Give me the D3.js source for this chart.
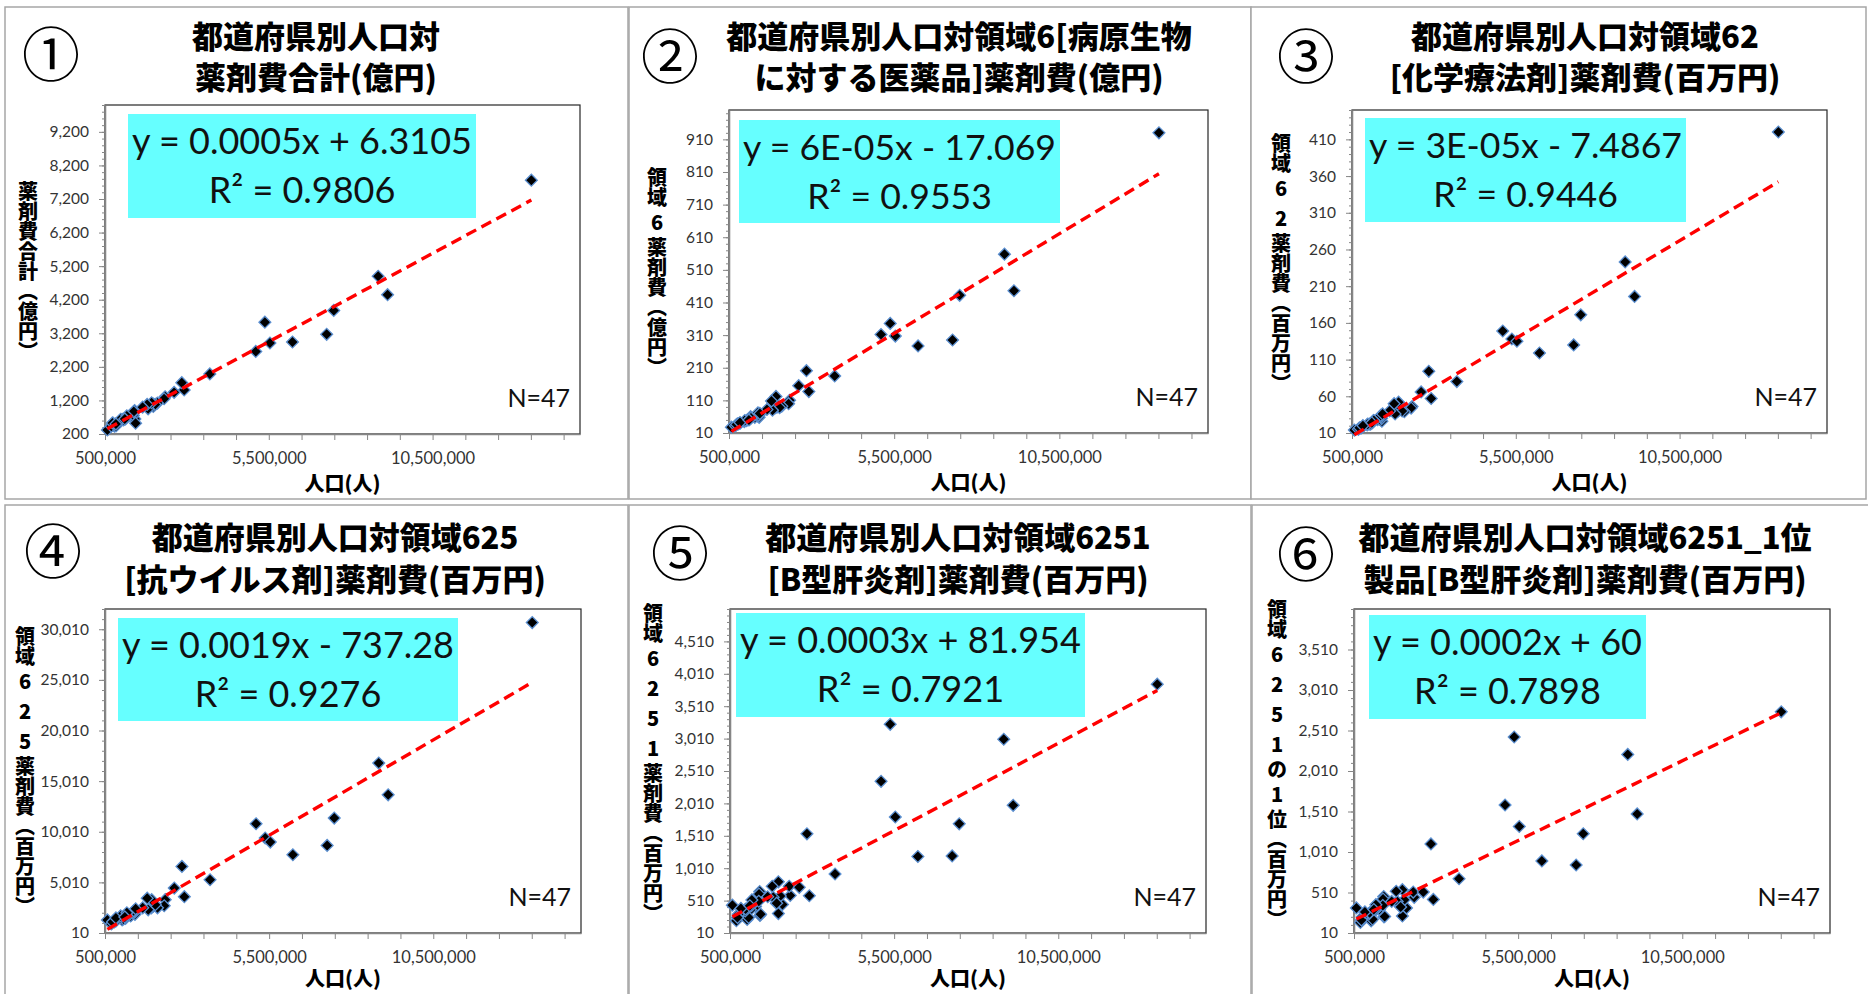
<!DOCTYPE html>
<html>
<head>
<meta charset="utf-8">
<script src="https://cdn.jsdelivr.net/npm/d3@7"></script>
<style>
  html, body { margin: 0; padding: 0; background: #ffffff; }
  svg { display: block; }
</style>
</head>
<body>
<svg id="chart" width="1868" height="994"></svg>
<script>
// ---- data: 47 prefectures, Hokkaido ... Okinawa ----
const prefectures = ["北海道","青森","岩手","宮城","秋田","山形","福島","茨城","栃木","群馬",
  "埼玉","千葉","東京","神奈川","新潟","富山","石川","福井","山梨","長野","岐阜","静岡","愛知",
  "三重","滋賀","京都","大阪","兵庫","奈良","和歌山","鳥取","島根","岡山","広島","山口","徳島",
  "香川","愛媛","高知","福岡","佐賀","長崎","熊本","大分","宮崎","鹿児島","沖縄"];

// 人口（人）
const population = [5380000,1308000,1280000,2334000,1023000,1124000,1914000,2917000,1974000,1973000,
  7267000,6223000,13515000,9126000,2304000,1066000,1154000,787000,835000,2099000,2032000,3700000,7483000,
  1816000,1413000,2610000,8839000,5535000,1364000,964000,573000,694000,1922000,2844000,1405000,756000,
  976000,1385000,728000,5102000,833000,1377000,1786000,1166000,1104000,1648000,1434000];

// ① 薬剤費合計（億円）
const drugTotal = [3530,780,740,1310,640,650,1080,1510,1020,1090,
  3170,2940,7760,4350,1250,620,700,430,440,1120,1080,1990,3880,
  950,650,1440,4900,2910,760,610,320,430,1130,1730,900,520,
  640,850,530,2660,500,870,1080,740,650,1000,520];

// ② 領域6 病原生物に対する医薬品（億円）
const area6 = [346,62,58,110,48,52,88,137,90,95,
  295,277,930,446,100,50,60,38,40,92,88,185,432,
  80,58,155,558,307,62,45,28,32,122,201,64,38,
  48,66,36,312,42,72,108,56,50,82,70];

// ③ 領域62 化学療法剤（百万円）
const area62 = [138,30,28,46,22,24,40,57,42,44,
  130,119,420,196,44,22,27,17,19,39,40,80,171,
  36,26,66,243,135,28,21,14,15,52,94,30,17,
  22,32,17,149,20,34,50,27,24,40,36];

// ④ 領域625 抗ウイルス剤（百万円）
const area625 = [9390,1800,1700,3300,1300,1450,2500,3600,2650,2900,
  8660,7740,30670,13660,2700,1400,1800,1100,1200,2500,2800,5270,11360,
  2300,1850,4450,16790,8990,2000,1500,1300,900,3300,6590,2100,1200,
  1700,2200,1100,10800,1500,2200,3450,2000,1600,2500,2400];

// ⑤ 領域6251 B型肝炎剤（百万円）
const area6251 = [3230,500,420,590,220,370,470,585,310,800,
  1200,1190,3850,1980,730,250,430,290,330,450,580,920,1695,
  560,280,715,3000,1800,560,350,440,200,470,1540,650,300,
  380,610,250,2350,390,500,730,520,430,570,300];

// ⑥ 領域6251 1位製品（百万円）
const area6251Top = [2430,340,300,450,160,280,340,425,220,545,
  850,900,2740,1480,515,180,300,200,240,320,420,680,1235,
  400,210,515,2215,1325,400,250,320,140,330,1110,460,210,
  260,430,170,1590,270,350,525,360,300,400,215];

const panelNumbers = ["①","②","③","④","⑤","⑥"];
const panelTitles = [
  ["都道府県別人口対", "薬剤費合計(億円)"],
  ["都道府県別人口対領域6[病原生物", "に対する医薬品]薬剤費(億円)"],
  ["都道府県別人口対領域62", "[化学療法剤]薬剤費(百万円)"],
  ["都道府県別人口対領域625", "[抗ウイルス剤]薬剤費(百万円)"],
  ["都道府県別人口対領域6251", "[B型肝炎剤]薬剤費(百万円)"],
  ["都道府県別人口対領域6251_1位", "製品[B型肝炎剤]薬剤費(百万円)"]
];
const yAxisTitles = ["薬剤費合計（億円）", "領域6薬剤費（億円）", "領域62薬剤費（百万円）",
  "領域625薬剤費（百万円）", "領域6251薬剤費（百万円）", "領域6251の1位（百万円）"];
const xAxisTitle = "人口(人)";
const equations = ["y = 0.0005x + 6.3105", "y = 6E-05x - 17.069", "y = 3E-05x - 7.4867",
  "y = 0.0019x - 737.28", "y = 0.0003x + 81.954", "y = 0.0002x + 60"];
const rSquared = ["R² = 0.9806", "R² = 0.9553", "R² = 0.9446", "R² = 0.9276", "R² = 0.7921", "R² = 0.7898"];
const sampleLabel = "N=47";

const xDomain = [500000, 15000000];
const xTickLabels = [500000, 5500000, 10500000];
const xMinorStep = 1000000;
const yDomains = [[200, 10000], [10, 1000], [10, 450], [10, 32010], [10, 5010], [10, 4010]];
const yTickLabels = [
  [200,1200,2200,3200,4200,5200,6200,7200,8200,9200],
  [10,110,210,310,410,510,610,710,810,910],
  [10,60,110,160,210,260,310,360,410],
  [10,5010,10010,15010,20010,25010,30010],
  [10,510,1010,1510,2010,2510,3010,3510,4010,4510],
  [10,510,1010,1510,2010,2510,3010,3510]
];
const yMinorSteps = [200, 20, 10, 1000, 100, 100];
const seriesList = [drugTotal, area6, area62, area625, area6251, area6251Top];

// ---- layout of the six panels (pixels) ----
const layout = [
  { box:[5,7,628,499],      plot:[105,105,580,434],   titleX:316,  titleY:[48,89],   num:[51,51],   yTitle:[28,271],  eq:[128,114,476,218] },
  { box:[629,7,1251,499],   plot:[729,110,1208,433],  titleX:959,  titleY:[48,89],   num:[670,53],  yTitle:[657,272], eq:[739,120,1060,223] },
  { box:[1251,7,1866,499],  plot:[1352,110,1827,433], titleX:1585, titleY:[48,89],   num:[1306,53], yTitle:[1281,263], eq:[1365,118,1686,222] },
  { box:[5,505,628,998],    plot:[105,609,581,933],   titleX:335,  titleY:[549,591], num:[53,548],  yTitle:[25,771],  eq:[118,618,458,721] },
  { box:[629,505,1251,998], plot:[730,609,1206,933],  titleX:958,  titleY:[549,591], num:[680,550], yTitle:[653,763], eq:[736,613,1085,717] },
  { box:[1252,505,1870,998],plot:[1354,609,1830,933], titleX:1585, titleY:[549,591], num:[1306,551], yTitle:[1277,764], eq:[1369,615,1646,719] }
];

const JP = "'Noto Sans CJK JP', 'Noto Sans CJK SC', sans-serif";
const LAT = "Lato, 'Liberation Sans', sans-serif";
const fmt = d3.format(",");
const svg = d3.select("#chart");
const isLatin = c => /[0-9A-Za-z]/.test(c);

function leastSquares(xs, ys) {
  const mx = d3.mean(xs), my = d3.mean(ys);
  let sxy = 0, sxx = 0;
  xs.forEach((x, i) => { sxy += (x - mx) * (ys[i] - my); sxx += (x - mx) * (x - mx); });
  const slope = sxy / sxx;
  return { slope, intercept: my - slope * mx };
}

layout.forEach((L, p) => {
  const g = svg.append("g");
  const values = seriesList[p];

  // panel frame
  g.append("rect")
    .attr("x", L.box[0]).attr("y", L.box[1])
    .attr("width", L.box[2] - L.box[0]).attr("height", L.box[3] - L.box[1])
    .attr("fill", "#ffffff").attr("stroke", "#a6a6a6").attr("stroke-width", 1.5);

  // circled panel number
  g.append("text")
    .attr("x", L.num[0]).attr("y", L.num[1])
    .attr("text-anchor", "middle").attr("dominant-baseline", "central")
    .attr("font-family", JP).attr("font-size", 58).attr("fill", "#000")
    .text(panelNumbers[p]);

  // two-line title
  panelTitles[p].forEach((line, i) => {
    g.append("text")
      .attr("x", L.titleX).attr("y", L.titleY[i])
      .attr("text-anchor", "middle")
      .attr("font-family", JP).attr("font-weight", 900).attr("font-size", 31)
      .attr("fill", "#000")
      .text(line);
  });

  const [px0, py0, px1, py1] = L.plot;
  const x = d3.scaleLinear().domain(xDomain).range([px0, px1]);
  const y = d3.scaleLinear().domain(yDomains[p]).range([py1, py0]);

  // plot area
  g.append("rect")
    .attr("x", px0).attr("y", py0).attr("width", px1 - px0).attr("height", py1 - py0)
    .attr("fill", "#ffffff").attr("stroke", "#262626").attr("stroke-width", 1.2);

  // y axis: minor ticks, then labelled ticks
  const yMinor = d3.range(yDomains[p][0], yDomains[p][1] + 1e-9, yMinorSteps[p]);
  const gyMinor = g.append("g").attr("transform", `translate(${px0},0)`)
    .call(d3.axisLeft(y).tickValues(yMinor).tickSize(3).tickSizeOuter(0).tickFormat(""));
  const gy = g.append("g").attr("transform", `translate(${px0},0)`)
    .call(d3.axisLeft(y).tickValues(yTickLabels[p]).tickSize(6).tickSizeOuter(0).tickPadding(10).tickFormat(fmt));
  [gyMinor, gy].forEach(a => {
    a.select(".domain").attr("stroke", "#868686").attr("stroke-width", 1.3);
    a.selectAll(".tick line").attr("stroke", "#868686").attr("stroke-width", 1);
  });
  gy.selectAll(".tick text").attr("font-family", LAT).attr("font-size", 15.5).attr("fill", "#333");

  // x axis
  const xTicks = d3.range(xDomain[0], xDomain[1], xMinorStep);
  const gx = g.append("g").attr("transform", `translate(0,${py1})`)
    .call(d3.axisBottom(x).tickValues(xTicks).tickSize(6).tickSizeOuter(0).tickPadding(12)
      .tickFormat(d => xTickLabels.includes(d) ? fmt(d) : ""));
  gx.select(".domain").attr("stroke", "#868686").attr("stroke-width", 1.3);
  gx.selectAll(".tick line").attr("stroke", "#868686").attr("stroke-width", 1);
  gx.selectAll(".tick text").attr("font-family", LAT).attr("font-size", 16.5).attr("fill", "#333");

  // x axis title
  g.append("text")
    .attr("x", (px0 + px1) / 2).attr("y", Math.min(py1 + 57, 986))
    .attr("text-anchor", "middle")
    .attr("font-family", JP).attr("font-weight", 900).attr("font-size", 20).attr("fill", "#000")
    .text(xAxisTitle);

  // y axis title, written top to bottom; Latin digits get extra room around them
  const chars = Array.from(yAxisTitles[p]);
  const yt = g.append("text")
    .attr("x", L.yTitle[0]).attr("y", L.yTitle[1])
    .attr("text-anchor", "middle")
    .style("writing-mode", "vertical-rl")
    .style("text-orientation", "upright")
    .attr("font-family", JP).attr("font-weight", 900).attr("font-size", 20).attr("fill", "#000");
  chars.forEach((c, i) => {
    let gap = 0;
    if (isLatin(c)) gap += 5;
    if (i > 0 && isLatin(chars[i - 1])) gap += 5;
    const t = yt.append("tspan").text(c);
    if (gap) t.attr("dy", gap);
  });

  // markers
  const diamond = d3.symbol().type(d3.symbolSquare).size(70);
  g.append("g").selectAll("path")
    .data(population.map((pop, i) => ({ pop, v: values[i], name: prefectures[i] })))
    .join("path")
    .attr("d", diamond)
    .attr("transform", d => `translate(${x(d.pop)},${y(d.v)}) rotate(45)`)
    .attr("fill", "#000").attr("stroke", "#5b8fd0").attr("stroke-width", 1.3);

  // linear trendline (least squares over the 47 points)
  const fit = leastSquares(population, values);
  const ext = d3.extent(population);
  g.append("path")
    .datum(ext)
    .attr("d", d3.line().x(d => x(d)).y(d => y(fit.intercept + fit.slope * d)))
    .attr("fill", "none").attr("stroke", "#ff0000").attr("stroke-width", 3.4)
    .attr("stroke-dasharray", "11,6");

  // regression label box
  const [ex0, ey0, ex1, ey1] = L.eq;
  g.append("rect")
    .attr("x", ex0).attr("y", ey0).attr("width", ex1 - ex0).attr("height", ey1 - ey0)
    .attr("fill", "#66ffff");
  const cx = (ex0 + ex1) / 2;
  const l1 = g.append("text").attr("x", cx).attr("y", ey0 + 40).attr("text-anchor", "middle")
    .attr("font-family", LAT).attr("font-size", 35).attr("fill", "#111").text(equations[p]);
  const natural = l1.node().getComputedTextLength();
  const fs = Math.min(37, 35 * (ex1 - ex0 - 8) / natural);
  l1.attr("font-size", fs);
  g.append("text").attr("x", cx).attr("y", ey0 + 89).attr("text-anchor", "middle")
    .attr("font-family", LAT).attr("font-size", fs).attr("fill", "#111").text(rSquared[p]);

  // sample size
  g.append("text")
    .attr("x", px1 - 10).attr("y", py1 - 27).attr("text-anchor", "end")
    .attr("font-family", LAT).attr("font-size", 25).attr("fill", "#111")
    .text(sampleLabel);
});
</script>
</body>
</html>
